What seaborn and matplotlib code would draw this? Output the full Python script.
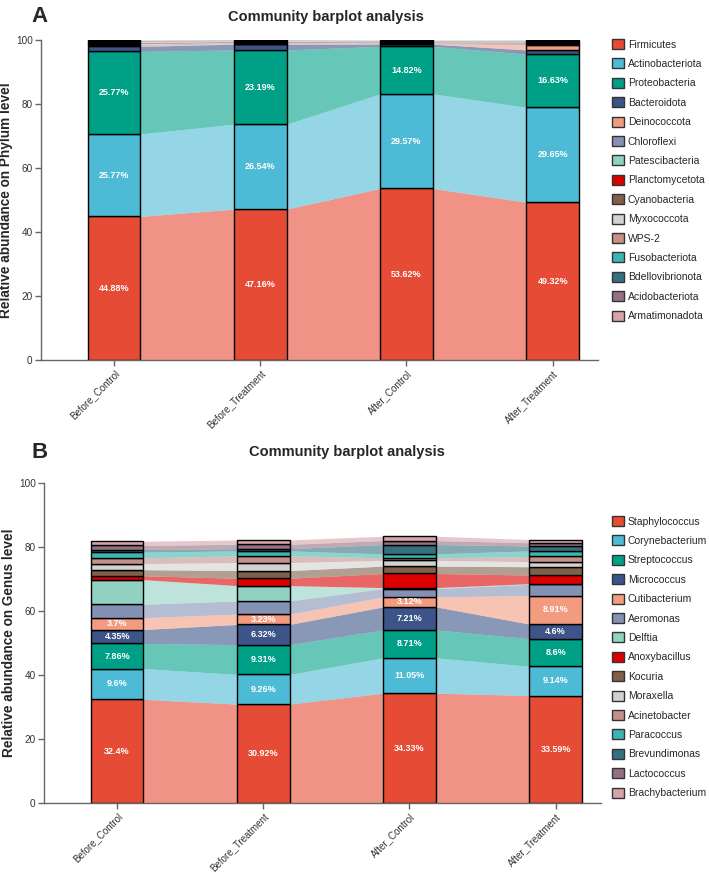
import matplotlib
matplotlib.use("Agg")
import matplotlib.pyplot as plt
import seaborn as sns
import numpy as np
import pandas as pd
from matplotlib.patches import Patch

# ---- data ----
groups = ["Before_Control", "Before_Treatment", "After_Control", "After_Treatment"]

phylum_names = ["Firmicutes", "Actinobacteriota", "Proteobacteria", "Bacteroidota",
                "Deinococcota", "Chloroflexi", "Patescibacteria", "Planctomycetota",
                "Cyanobacteria", "Myxococcota", "WPS-2", "Fusobacteriota",
                "Bdellovibrionota", "Acidobacteriota", "Armatimonadota"]
phylum_before_control = [44.88, 25.77, 25.77, 1.60, 0.30, 0.30, 0.25, 0.20, 0.20, 0.15, 0.15, 0.12, 0.12, 0.10, 0.10]
phylum_before_treatment = [47.16, 26.54, 23.19, 1.80, 0.20, 0.25, 0.15, 0.15, 0.12, 0.12, 0.10, 0.10, 0.08, 0.08, 0.06]
phylum_after_control = [53.62, 29.57, 14.82, 0.70, 0.15, 0.20, 0.10, 0.15, 0.12, 0.12, 0.10, 0.10, 0.08, 0.08, 0.06]
phylum_after_treatment = [49.32, 29.65, 16.63, 1.30, 1.60, 0.40, 0.15, 0.20, 0.15, 0.15, 0.12, 0.10, 0.08, 0.08, 0.07]

genus_names = ["Staphylococcus", "Corynebacterium", "Streptococcus", "Micrococcus",
               "Cutibacterium", "Aeromonas", "Delftia", "Anoxybacillus", "Kocuria",
               "Moraxella", "Acinetobacter", "Paracoccus", "Brevundimonas",
               "Lactococcus", "Brachybacterium"]
genus_before_control = [32.4, 9.6, 7.86, 4.35, 3.7, 4.2, 7.7, 1.2, 1.9, 1.9, 1.8, 1.8, 0.8, 1.3, 1.3]
genus_before_treatment = [30.92, 9.26, 9.31, 6.32, 3.23, 4.1, 4.8, 2.3, 2.4, 2.5, 2.1, 1.55, 0.7, 1.35, 1.35]
genus_after_control = [34.33, 11.05, 8.71, 7.21, 3.12, 2.6, 0.3, 4.4, 2.3, 1.8, 0.8, 1.25, 2.9, 1.25, 1.35]
genus_after_treatment = [33.59, 9.14, 8.6, 4.6, 8.91, 3.5, 0.2, 2.7, 2.6, 1.6, 1.6, 1.75, 1.55, 1.0, 1.0]

palette = ["#E64B35", "#4DBBD5", "#00A087", "#3C5488", "#F39B7F", "#8491B4",
           "#91D1C2", "#DC0000", "#7E6148", "#D2D2D2", "#C3918A", "#3DB6B2",
           "#35707F", "#957085", "#D6A3A8"]

phylum_df = pd.DataFrame([phylum_before_control, phylum_before_treatment,
                          phylum_after_control, phylum_after_treatment],
                         index=groups, columns=phylum_names)
genus_df = pd.DataFrame([genus_before_control, genus_before_treatment,
                         genus_after_control, genus_after_treatment],
                        index=groups, columns=genus_names)

sns.set_theme(style="white")
plt.rcParams["font.family"] = ["Liberation Sans", "DejaVu Sans"]

fig = plt.figure(figsize=(7.09, 8.73), dpi=100)
W, H = 709, 873


def draw_panel(ax, df, n_label, ylabel):
    x = np.arange(len(groups))
    w = 0.36
    bottoms = np.zeros(len(groups))
    for k, name in enumerate(df.columns):
        color = palette[k]
        vals = df[name].to_numpy()
        tops = bottoms + vals
        # flowing ribbons between the bars
        for i in range(len(groups) - 1):
            ax.fill_between([x[i] + w / 2, x[i + 1] - w / 2],
                            [bottoms[i], bottoms[i + 1]], [tops[i], tops[i + 1]],
                            color=color, alpha=0.6, lw=0, zorder=1)
        sns.barplot(x=groups, y=vals, bottom=bottoms, color=color, saturation=1,
                    width=w, edgecolor="black", linewidth=1.0, ax=ax, zorder=2)
        if k < n_label:
            for i, v in enumerate(vals):
                ax.text(x[i], bottoms[i] + v / 2, f"{v:g}%", ha="center", va="center",
                        color="white", fontsize=6.5, fontweight="bold", zorder=3)
        bottoms = tops

    ax.set_xlim(-0.5, 3.31)
    ax.set_ylim(0, 100)
    ax.set_yticks([0, 20, 40, 60, 80, 100])
    ax.set_ylabel(ylabel, fontsize=9.8, fontweight="bold")
    ax.yaxis.set_label_coords(-28 / 557, 0.5)
    ax.set_xlabel("")
    sns.despine(ax=ax)
    for s in ["left", "bottom"]:
        ax.spines[s].set_color("#666666")
        ax.spines[s].set_linewidth(1.0)
    ax.tick_params(axis="both", length=4, width=1, color="#666666", pad=2,
                   labelsize=7.2, labelcolor="#333333", left=True, bottom=True)
    plt.setp(ax.get_xticklabels(), rotation=45, ha="right", rotation_mode="anchor",
             fontsize=7)

    handles = [Patch(facecolor=palette[k], edgecolor="#333333", linewidth=1.0, label=n)
               for k, n in enumerate(df.columns)]
    return handles


ax_a = fig.add_axes([41 / W, 1 - 360 / H, 557 / W, 320 / H])
h_a = draw_panel(ax_a, phylum_df, 3, "Relative abundance on Phylum level")
ax_b = fig.add_axes([44 / W, 1 - 803 / H, 557 / W, 320 / H])
h_b = draw_panel(ax_b, genus_df, 5, "Relative abundance on Genus level")

for ax, handles, ytop in [(ax_a, h_a, 37), (ax_b, h_b, 514)]:
    ax.legend(handles=handles, loc="upper left", bbox_to_anchor=(610 / W, 1 - ytop / H),
              bbox_transform=fig.transFigure, frameon=False, fontsize=7.5,
              handlelength=1.1, handleheight=1.1, handletextpad=0.4,
              labelspacing=0.85, borderpad=0.2, borderaxespad=0)

fig.text(228 / W, 1 - 17 / H, "Community barplot analysis", ha="left", va="center",
         fontsize=10.5, fontweight="bold")
fig.text(249 / W, 1 - 452 / H, "Community barplot analysis", ha="left", va="center",
         fontsize=10.5, fontweight="bold")
fig.text(40 / W, 1 - 16 / H, "A", ha="center", va="center", fontsize=16, fontweight="bold")
fig.text(40 / W, 1 - 452 / H, "B", ha="center", va="center", fontsize=16, fontweight="bold")

fig.savefig("out.png", dpi=100)
